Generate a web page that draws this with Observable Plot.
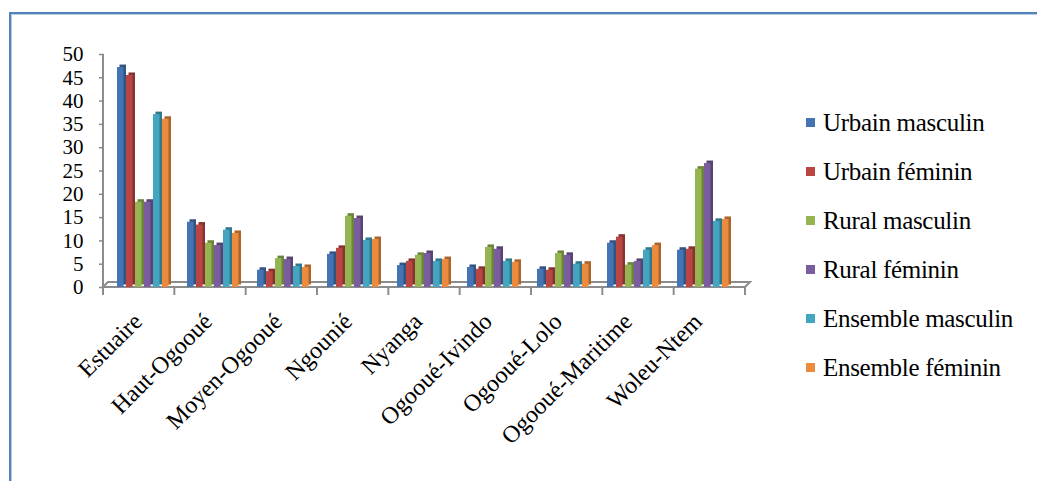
<!DOCTYPE html>
<html>
<head>
<meta charset="utf-8">
<script src="https://cdn.jsdelivr.net/npm/d3@7"></script>
<script src="https://cdn.jsdelivr.net/npm/@observablehq/plot@0.6"></script>
<style>
  html, body { margin: 0; padding: 0; background: #fff; }
  #wrap { position: relative; width: 1037px; height: 481px; overflow: hidden; font-family: "Liberation Serif", serif; }
  #frame { position: absolute; left: 9px; top: 12px; right: -4px; bottom: -4px;
           border-top: 2px solid #4F81BD; border-left: 2px solid #4F81BD;
           box-shadow: inset 1px 1px 0 #B9CDE5; }
  #chart { position: absolute; left: 0; top: 0; }
  #legend { position: absolute; left: 806px; top: 0; }
  .item { position: absolute; left: 0; white-space: nowrap; font-size: 25px; line-height: 25px; color: #000; }
  .sw { position: absolute; left: 0; top: 8px; width: 9px; height: 9px; }
  .lab { position: absolute; left: 17px; top: 0; letter-spacing: -0.3px; }
</style>
</head>
<body>
<div id="wrap">
  <div id="frame"></div>
  <div id="chart"></div>
  <div id="legend"></div>
</div>
<script>
const regions = ["Estuaire","Haut-Ogooué","Moyen-Ogooué","Ngounié","Nyanga","Ogooué-Ivindo","Ogooué-Lolo","Ogooué-Maritime","Woleu-Ntem"];
const series = ["Urbain masculin","Urbain féminin","Rural masculin","Rural féminin","Ensemble masculin","Ensemble féminin"];
const colors = ["#4574B4","#BA4643","#94B552","#7A5D9E","#44A5C1","#EC8A3D"];
const yTicks = [0,5,10,15,20,25,30,35,40,45,50];

const urbainMasculin   = [47.2, 14.0, 3.7,  7.1, 4.7, 4.3, 3.9, 9.5,  8.0];
const urbainFeminin    = [45.5, 13.4, 3.4,  8.4, 5.6, 3.9, 3.7, 10.8, 8.2];
const ruralMasculin    = [18.3,  9.5, 6.2, 15.3, 6.9, 8.6, 7.3, 4.8, 25.4];
const ruralFeminin     = [18.3,  9.0, 6.0, 14.8, 7.3, 8.2, 6.9, 5.6, 26.6];
const ensembleMasculin = [37.1, 12.3, 4.5, 10.1, 5.6, 5.6, 5.0, 8.0, 14.2];
const ensembleFeminin  = [36.1, 11.6, 4.3, 10.3, 6.0, 5.4, 5.0, 9.0, 14.6];

const valuesBySeries = [urbainMasculin, urbainFeminin, ruralMasculin, ruralFeminin, ensembleMasculin, ensembleFeminin];
const colorOf = Object.fromEntries(series.map((s, i) => [s, colors[i]]));
const darkOf = Object.fromEntries(series.map((s, i) => [s, d3.color(colors[i]).darker(0.9).formatHex()]));

const rows = [];
regions.forEach((r, ri) => series.forEach((s, si) => rows.push({region: r, series: s, value: valuesBySeries[si][ri]})));

const W = 1037, H = 481;
const mL = 103, mR = 292, mT = 54, mB = 194;
const font = "Liberation Serif";
const depth = 2.5;

const chart = Plot.plot({
  width: W, height: H,
  marginLeft: mL, marginRight: mR, marginTop: mT, marginBottom: mB,
  style: {fontFamily: font, color: "#000", background: "transparent", overflow: "visible"},
  fx: {domain: regions, paddingInner: 0.18, paddingOuter: 0.15, label: null},
  x: {domain: series, padding: 0, axis: null},
  y: {domain: [0, 50], axis: null},
  marks: [
    Plot.barY(rows, {fx: "region", x: "series", y: "value", fill: d => darkOf[d.series], insetRight: depth, dx: depth, dy: -depth}),
    Plot.barY(rows, {fx: "region", x: "series", y: "value", fill: d => colorOf[d.series], insetRight: depth}),
    Plot.axisY({ticks: yTicks, tickSize: 5, tickPadding: 16, dx: -11, stroke: "#8a8a8a", strokeWidth: 1.5, fill: "#000", fontSize: 21, fontFamily: font, label: null}),
    Plot.axisFx({anchor: "bottom", tickRotate: -45, tickSize: 0, tickPadding: 30, dx: -6, fontSize: 24, fontFamily: font, fill: "#000", label: null})
  ]
});
document.getElementById("chart").appendChild(chart);

// 3D floor, axis line, and group separators derived from the Plot scales
const svg = d3.select(chart);
const fxs = chart.scale("fx"), ys = chart.scale("y");
const [x0, x1] = fxs.range;
const yb = ys.apply(0), yt = ys.apply(50);
const g = svg.insert("g", ":first-child").attr("stroke", "#8c8c8c").attr("stroke-width", 2).attr("fill", "none");
const d = 5;
g.append("path").attr("d", `M${x0},${yb}L${x1},${yb}L${x1 + d},${yb - d}L${x0 + d},${yb - d}Z`).attr("fill", "#fff");
g.append("line").attr("x1", x0).attr("x2", x0).attr("y1", yt).attr("y2", yb + 8);
const step = (x1 - x0) / regions.length;
for (let k = 0; k <= regions.length; k++) {
  g.append("line").attr("x1", x0 + k * step).attr("x2", x0 + k * step).attr("y1", yb).attr("y2", yb + 8);
}

// legend
const leg = d3.select("#legend");
series.forEach((s, i) => {
  const it = leg.append("div").attr("class", "item").style("top", (110 + i * 49) + "px");
  it.append("div").attr("class", "sw").style("background", colors[i]);
  it.append("div").attr("class", "lab").text(s);
});
</script>
</body>
</html>
